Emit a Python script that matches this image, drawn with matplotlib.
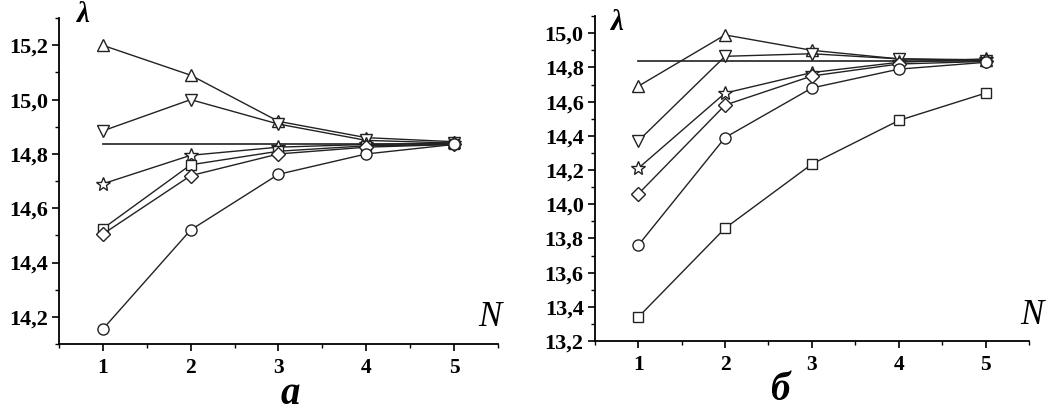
import numpy as np
import matplotlib.pyplot as plt
from matplotlib.ticker import MultipleLocator, FixedLocator

N = [1, 2, 3, 4, 5]

# panel a
a_tri_up = [15.20, 15.09, 14.92, 14.86, 14.845]
a_tri_dn = [14.885, 15.00, 14.91, 14.85, 14.84]
a_star = [14.69, 14.795, 14.825, 14.835, 14.84]
a_square = [14.525, 14.76, 14.81, 14.83, 14.835]
a_diamond = [14.505, 14.72, 14.80, 14.825, 14.835]
a_circle = [14.155, 14.52, 14.725, 14.80, 14.835]
a_ref = 14.837
a_yticks = [14.2, 14.4, 14.6, 14.8, 15.0, 15.2]

# panel b
b_tri_up = [14.69, 14.99, 14.90, 14.85, 14.845]
b_tri_dn = [14.37, 14.865, 14.88, 14.85, 14.84]
b_star = [14.21, 14.65, 14.77, 14.83, 14.85]
b_diamond = [14.06, 14.58, 14.75, 14.82, 14.835]
b_circle = [13.76, 14.39, 14.68, 14.79, 14.83]
b_square = [13.34, 13.86, 14.235, 14.49, 14.65]
b_ref = 14.84
b_yticks = [13.2, 13.4, 13.6, 13.8, 14.0, 14.2, 14.4, 14.6, 14.8, 15.0]

plt.rcParams['font.family'] = ['Liberation Serif', 'DejaVu Serif']

fig = plt.figure(figsize=(10.49, 4.13), dpi=100)
ax1 = fig.add_axes([0.0562, 0.167, 0.4185, 0.789])
ax2 = fig.add_axes([0.567, 0.174, 0.414, 0.787])


def draw(ax, series, ref, yticks, ylim, minor):
    ax.plot([N[0], N[-1]], [ref, ref], color='#333333', lw=1.3)
    for vals, m, ms in series:
        ax.plot(N, vals, color='#222222', lw=1.0, marker=m, ms=ms,
                mfc='white', mec='#222222', mew=1.0)
    ax.set_xlim(0.5, 5.5)
    ax.set_ylim(*ylim)
    ax.spines['top'].set_visible(False)
    ax.spines['right'].set_visible(False)
    ax.spines['left'].set_linewidth(1.3)
    ax.spines['bottom'].set_linewidth(1.3)
    ax.xaxis.set_major_locator(FixedLocator(N))
    ax.xaxis.set_minor_locator(FixedLocator([0.5, 1.5, 2.5, 3.5, 4.5, 5.5]))
    ax.set_xticklabels([str(n) for n in N], fontsize=15.5, fontweight='bold')
    ax.yaxis.set_major_locator(FixedLocator(yticks))
    ax.yaxis.set_minor_locator(MultipleLocator(minor))
    ax.set_yticklabels([('%.1f' % t).replace('.', ',') for t in yticks],
                       fontsize=16, fontweight='bold')
    ax.tick_params(axis='both', which='major', length=5, width=1.2, direction='out')
    ax.tick_params(axis='both', which='minor', length=3, width=1.0, direction='out')
    ax.tick_params(axis='x', pad=5)
    ax.tick_params(axis='y', pad=3)


draw(ax1, [(a_tri_up, '^', 9), (a_tri_dn, 'v', 9), (a_star, '*', 10),
           (a_square, 's', 7), (a_diamond, 'D', 7), (a_circle, 'o', 8)],
     a_ref, a_yticks, (14.1, 15.3), 0.1)
draw(ax2, [(b_tri_up, '^', 9), (b_tri_dn, 'v', 9), (b_star, '*', 10),
           (b_diamond, 'D', 7), (b_circle, 'o', 8), (b_square, 's', 7)],
     b_ref, b_yticks, (13.2, 15.1), 0.1)

fig.text(83 / 1049, 1 - 15 / 413, 'λ', fontsize=21, fontweight='bold',
         style='italic', ha='center', va='center')
fig.text(617 / 1049, 1 - 23 / 413, 'λ', fontsize=21, fontweight='bold',
         style='italic', ha='center', va='center')
fig.text(490 / 1049, 1 - 318 / 413, 'N', fontsize=25, style='italic',
         ha='center', va='center')
fig.text(1032 / 1049, 1 - 316 / 413, 'N', fontsize=25, style='italic',
         ha='center', va='center')
fig.text(290 / 1049, 1 - 394 / 413, 'а', fontsize=28, fontweight='bold',
         style='italic', ha='center', va='center')
fig.text(780 / 1049, 1 - 391 / 413, 'б', fontsize=28, fontweight='bold',
         style='italic', ha='center', va='center')

fig.savefig('out.png', dpi=100)
